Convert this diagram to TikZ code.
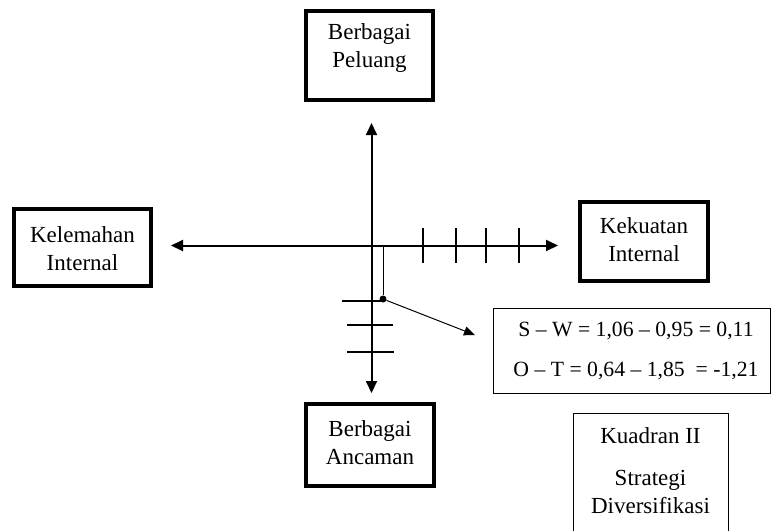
\documentclass[tikz,border=0pt]{standalone}
\usepackage{fontspec}
\setmainfont{Liberation Serif}
\usetikzlibrary{positioning,arrows.meta}

\begin{document}
\begin{tikzpicture}[x=1pt, y=-1pt, font=\fontsize{23}{28}\selectfont,
    >={Triangle[length=12pt, width=11pt]},
    kotak/.style={draw, line width=4pt, inner sep=0pt},
    tipis/.style={draw, line width=1pt, inner sep=0pt},
    teks/.style={align=center, inner sep=0pt},
    rumus/.style={teks, font=\fontsize{21.7}{26}\selectfont},
    sumbu/.style={line width=2pt},
    garis/.style={line width=1.3pt}]

    \useasboundingbox (0,0) rectangle (773,531);

    % ---- kotak faktor
    \node[kotak, minimum width=127pt, minimum height=89pt] (peluang) at (369.5,55.5) {};
    \node[teks] (peluangtxt) at (369.5,48) {Berbagai\\Peluang};
    \node[kotak, minimum width=137pt, minimum height=77pt] (lemah) at (82.5,247.5) {};
    \node[teks] (lemahtxt) at (82.5,249) {Kelemahan\\Internal};
    \node[kotak, minimum width=128pt, minimum height=79pt] (kuat) at (644,241.5) {};
    \node[teks] (kuattxt) at (644,240) {Kekuatan\\Internal};
    \node[kotak, minimum width=128pt, minimum height=82pt] (ancaman) at (370,445) {};
    \node[teks] (ancamantxt) at (370,443) {Berbagai\\Ancaman};

    % ---- sumbu
    \coordinate (o) at (371.5,245.5);
    \coordinate (atas) at (371.5,123);
    \coordinate (bawah) at (371.5,393);
    \coordinate (kiri) at (171,245.5);
    \coordinate (kanan) at (558,245.5);
    \draw[sumbu, ->] (o) -- (atas);
    \draw[sumbu, ->] (o) -- (bawah);
    \draw[sumbu, ->] (o) -- (kiri);
    \draw[sumbu, ->] (o) -- (kanan);
    \foreach \x in {423,456,486,519}
      \draw[garis] (\x,228) -- (\x,263);
    \foreach \y/\a/\b in {301/342/384, 325/347/393, 352/347/394}
      \draw[garis] (\a,\y) -- (\b,\y);

    % ---- titik posisi
    \coordinate (proy) at (383,245.5);
    \node[circle, fill, inner sep=0pt, minimum size=7pt] (titik) at (383,299) {};
    \coordinate (ujung) at (475,335);
    \draw[line width=1pt] (proy) -- (titik);
    \draw[line width=1pt, ->, >={Triangle[length=11pt, width=9pt]}] (titik) -- (ujung);

    % ---- hasil hitung
    \node[tipis, minimum width=277pt, minimum height=85pt] (hitung) at (631.5,350.5) {};
    \node[rumus] (sw) at (636,331) {S -- W = 1,06 -- 0,95 = 0,11};
    \node[rumus] (ot) at (636,371) {O -- T = 0,64 -- 1,85 \ = -1,21};

    % ---- kuadran
    \draw[line width=1pt] (573,531) -- (573,413) -- (728,413) -- (728,531);
    \node[teks] (kuadran) at (650.5,436) {Kuadran II};
    \node[teks] (strategi) at (650.5,492) {Strategi\\Diversifikasi};
\end{tikzpicture}
\end{document}
